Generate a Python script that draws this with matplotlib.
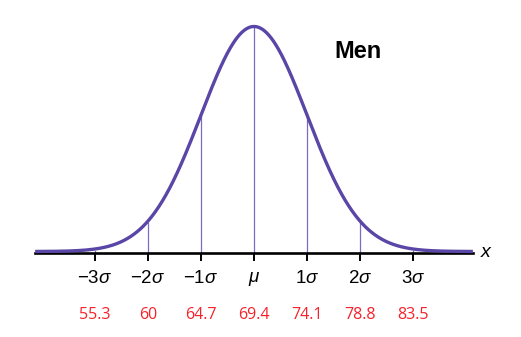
import numpy as np
import matplotlib
matplotlib.use("Agg")
import matplotlib.pyplot as plt

# heights of adult men (inches)
mean = 69.4
sd = 4.7
sigma_steps = [-3, -2, -1, 0, 1, 2, 3]
sigma_labels = [r"$-3\sigma$", r"$-2\sigma$", r"$-1\sigma$", r"$\mu$",
                r"$1\sigma$", r"$2\sigma$", r"$3\sigma$"]
value_labels = ["55.3", "60", "64.7", "69.4", "74.1", "78.8", "83.5"]

CURVE = "#5a46a6"
GUIDE = "#7a6cc2"
RED = "#f5222a"

plt.rcParams["font.family"] = ["Liberation Sans", "DejaVu Sans"]
plt.rcParams["mathtext.fontset"] = "custom"
plt.rcParams["mathtext.rm"] = "Liberation Sans"
plt.rcParams["mathtext.it"] = "Liberation Sans:italic"


def pdf(v):
    return np.exp(-0.5 * ((v - mean) / sd) ** 2) / (sd * np.sqrt(2 * np.pi))


def main() -> None:
    fig = plt.figure(figsize=(5.21, 3.37), dpi=100)
    ax = fig.add_axes([0, 0, 1, 1])

    # pixel geometry: mean at x=254, one sigma = 53 px, baseline at y=253, peak at y=28
    px_sigma = 53.0
    left = mean - 254 / px_sigma * sd
    right = mean + (521 - 254) / px_sigma * sd
    peak = pdf(mean)
    per_px = peak / 225.0
    ax.set_xlim(left, right)
    ax.set_ylim(-(337 - 253) * per_px, 253 * per_px)

    lo, hi = mean - 4.13 * sd, mean + 4.13 * sd
    xs = np.linspace(lo, hi, 600)

    ticks = [mean + k * sd for k in sigma_steps]
    for t in ticks:
        ax.plot([t, t], [0, pdf(t)], color=GUIDE, lw=0.9, zorder=2)

    ax.plot(xs, pdf(xs) + 1.5 * per_px, color=CURVE, lw=2.4, zorder=4,
            solid_capstyle="butt")

    for side in ["top", "right", "left"]:
        ax.spines[side].set_visible(False)
    ax.spines["bottom"].set_position(("data", 0))
    ax.spines["bottom"].set_bounds(lo, hi)
    ax.spines["bottom"].set_linewidth(1.9)
    ax.spines["bottom"].set_zorder(3)
    ax.set_yticks([])
    ax.set_xticks(ticks)
    ax.set_xticklabels(sigma_labels)
    ax.tick_params(axis="x", direction="out", length=6, width=1.4,
                   pad=6.5, labelsize=13.5, colors="black")
    ax.set_facecolor("none")

    for t, lab in zip(ticks, value_labels):
        ax.annotate(lab, xy=(t, 0), xytext=(0, -43), textcoords="offset points",
                    ha="center", va="center_baseline", color=RED, fontsize=11.5,
                    family=["Open Sans", "DejaVu Sans"])

    ax.annotate("x", xy=(hi, 0), xytext=(9, 0.5), textcoords="offset points",
                ha="center", va="center", fontsize=14, style="italic")

    ax.text(0.687, 0.846, "Men", transform=ax.transAxes, ha="center",
            va="center", fontsize=17, fontweight="bold")

    fig.savefig("out.png", dpi=100)


if __name__ == "__main__":
    main()
